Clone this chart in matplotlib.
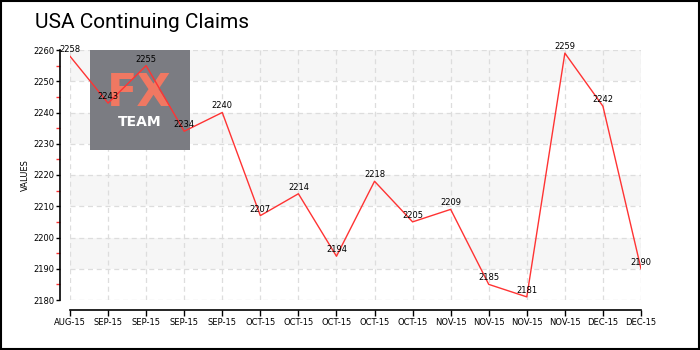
import matplotlib
matplotlib.use("Agg")
import matplotlib.pyplot as plt
from matplotlib.patches import Rectangle
from matplotlib.ticker import MultipleLocator

categories = ["AUG-15", "SEP-15", "SEP-15", "SEP-15", "SEP-15", "OCT-15", "OCT-15", "OCT-15",
              "OCT-15", "OCT-15", "NOV-15", "NOV-15", "NOV-15", "NOV-15", "DEC-15", "DEC-15"]
values = [2258, 2243, 2255, 2234, 2240, 2207, 2214, 2194, 2218, 2205, 2209, 2185, 2181, 2259, 2242, 2190]
title = "USA Continuing Claims"
ylabel = "VALUES"

fig = plt.figure(figsize=(7, 3.5), dpi=100)
fig.patch.set_facecolor("white")
# outer border
fig.add_artist(Rectangle((0.002, 0.003), 0.996, 0.994, transform=fig.transFigure,
                         fill=False, edgecolor="black", linewidth=1.5))

ax = fig.add_axes([70/700, 50/350, (641-70)/700, 250/350])
x = list(range(len(values)))
ax.set_xlim(0, len(values) - 1)
ax.set_ylim(2180, 2260)

# alternating bands
for lo in [2190, 2210, 2230, 2250]:
    ax.axhspan(lo, lo + 10, color="#f6f6f6", zorder=0, linewidth=0)
# grid
for yv in range(2180, 2261, 10):
    ax.axhline(yv, color="#dddddd", linestyle=(0, (4, 3)), linewidth=0.9, zorder=1)
for xi in x:
    ax.axvline(xi, color="#dddddd", linestyle=(0, (4, 3)), linewidth=0.9, zorder=1)

# logo
ax.add_patch(Rectangle((90/700, 1 - 150/350), 100/700, 100/350, transform=fig.transFigure,
                       facecolor="#7b7c82", edgecolor="none", zorder=2))
ax.text(139/700, 1 - 94/350, "FX", ha="center", va="center", color="#f07862",
        fontsize=32, fontweight="bold", zorder=3, transform=fig.transFigure)
ax.text(140/700, 1 - 122/350, "TEAM", ha="center", va="center", color="white",
        fontsize=10, fontweight="bold", zorder=3, transform=fig.transFigure)

ax.plot(x, values, color="#ff3333", linewidth=1.0, zorder=4)
for xi, v in zip(x, values):
    ax.annotate(str(v), (xi, v), xytext=(0, 1.5), textcoords="offset points",
                ha="center", va="bottom", fontsize=6, color="black", zorder=5)

for s in ["top", "right"]:
    ax.spines[s].set_visible(False)
ax.spines["left"].set_position(("outward", 7.2))
ax.spines["bottom"].set_position(("outward", 7.2))
ax.spines["left"].set_linewidth(1.2)
ax.spines["bottom"].set_linewidth(1.2)

ax.set_yticks(range(2180, 2261, 10))
ax.yaxis.set_minor_locator(MultipleLocator(5))
ax.tick_params(axis="y", which="major", length=3, width=1, labelsize=6, pad=1)
ax.tick_params(axis="y", which="minor", length=3, width=1, color="#ff3333")
ax.set_xticks(x)
ax.set_xticklabels(categories)
ax.tick_params(axis="x", which="major", length=4, width=1, labelsize=6, pad=2)
ax.set_ylabel(ylabel, fontsize=6)
ax.yaxis.set_label_coords(-40/571, 0.5)

fig.text(35/700, 1 - 22/350, title, ha="left", va="center", fontsize=15,
         family=["Roboto", "DejaVu Sans"], color="black")

fig.savefig("out.png", dpi=100)
